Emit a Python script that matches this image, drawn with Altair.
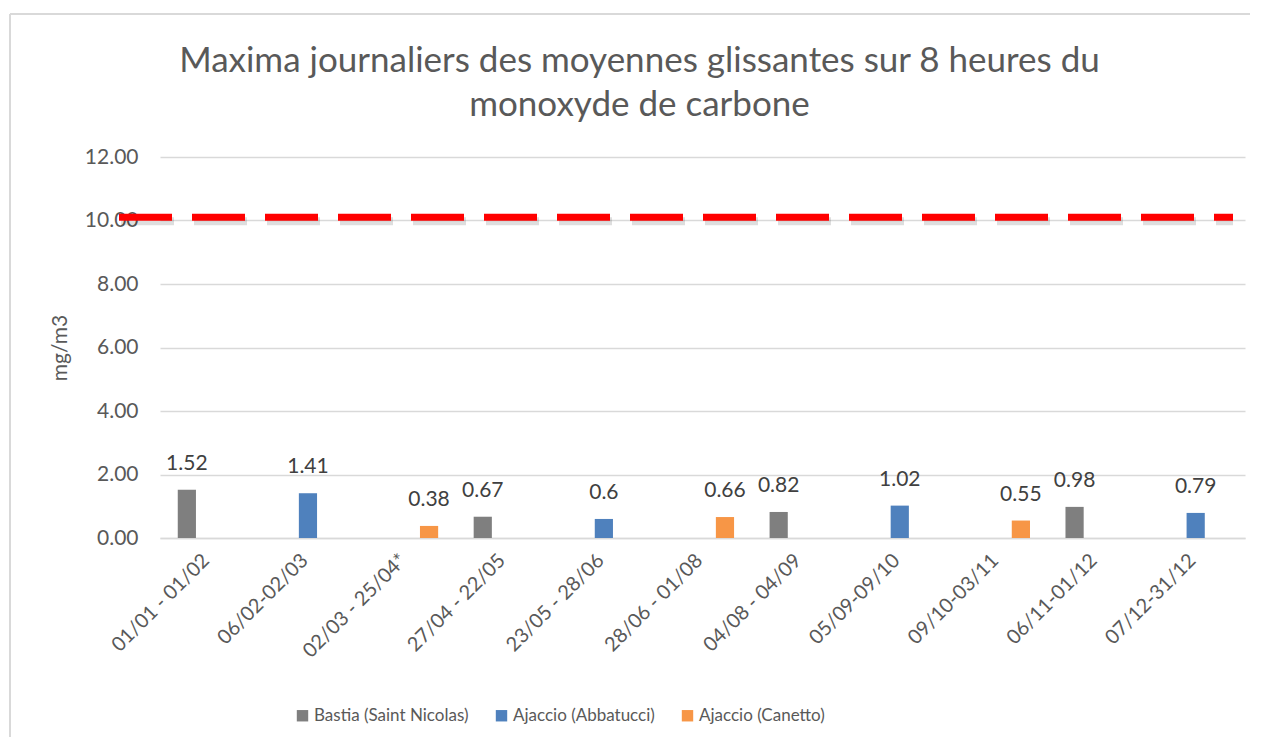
import altair as alt
import pandas as pd

categories = ["01/01 - 01/02", "06/02-02/03", "02/03 - 25/04*", "27/04 - 22/05",
              "23/05 - 28/06", "28/06 - 01/08", "04/08 - 04/09", "05/09-09/10",
              "09/10-03/11", "06/11-01/12", "07/12-31/12"]
series_names = ["Bastia (Saint Nicolas)", "Ajaccio (Abbatucci)", "Ajaccio (Canetto)"]
bar_series = ["Bastia (Saint Nicolas)", "Ajaccio (Abbatucci)", "Ajaccio (Canetto)",
              "Bastia (Saint Nicolas)", "Ajaccio (Abbatucci)", "Ajaccio (Canetto)",
              "Bastia (Saint Nicolas)", "Ajaccio (Abbatucci)", "Ajaccio (Canetto)",
              "Bastia (Saint Nicolas)", "Ajaccio (Abbatucci)"]
values = [1.52, 1.41, 0.38, 0.67, 0.6, 0.66, 0.82, 1.02, 0.55, 0.98, 0.79]
labels = ["1.52", "1.41", "0.38", "0.67", "0.6", "0.66", "0.82", "1.02", "0.55", "0.98", "0.79"]
colors = ["#7f7f7f", "#4f81bd", "#f79646"]
threshold = [10.1]

FONT = "Lato"
TXT = "#595959"

df = pd.DataFrame({"periode": categories, "serie": bar_series, "valeur": values, "label": labels})
thr = pd.DataFrame({"seuil": threshold})

W, H = 1085, 381

x_enc = alt.X("periode:N", sort=categories,
              scale=alt.Scale(domain=categories, paddingInner=0.36, paddingOuter=0.18),
              axis=alt.Axis(title=None, labelAngle=-45, ticks=False, labelPadding=19,
                            labelOffset=-3, labelAlign="right", labelBaseline="middle"))
xo_enc = alt.XOffset("serie:N", sort=series_names,
                     scale=alt.Scale(domain=series_names, paddingInner=0.19))
y_enc = alt.Y("valeur:Q", scale=alt.Scale(domain=[0, 12]),
              axis=alt.Axis(title="mg/m3", values=[0, 2, 4, 6, 8, 10, 12], format=".2f"))

bars = alt.Chart(df).mark_bar().encode(
    x=x_enc, xOffset=xo_enc, y=y_enc,
    color=alt.Color("serie:N", sort=series_names,
                    scale=alt.Scale(domain=series_names, range=colors),
                    legend=alt.Legend(title=None, orient="none", direction="horizontal",
                                      legendX=134, legendY=550))
)

text = alt.Chart(df).mark_text(baseline="bottom", dy=-16, fontSize=21, color="#404040",
                               font=FONT).encode(
    x=alt.X("periode:N", sort=categories), xOffset=alt.XOffset("serie:N", sort=series_names),
    y="valeur:Q", text="label:N")

shadow = alt.Chart(thr).mark_rule(color="#000000", opacity=0.13, strokeWidth=8,
                                  strokeDash=[53, 20], yOffset=4, xOffset=2).encode(
    y="seuil:Q", x=alt.value(-41), x2=alt.value(W - 12))

rule = alt.Chart(thr).mark_rule(color="#ff0000", strokeWidth=7,
                                strokeDash=[53, 20]).encode(
    y="seuil:Q", x=alt.value(-41), x2=alt.value(W - 12))

frame_top = alt.Chart(thr).mark_rule(color="#d9d9d9", strokeWidth=2).encode(
    x=alt.value(-150), x2=alt.value(1090), y=alt.value(-143))
frame_left = alt.Chart(thr).mark_rule(color="#d9d9d9", strokeWidth=2).encode(
    x=alt.value(-150), y=alt.value(-143), y2=alt.value(580))

chart = alt.layer(frame_top, frame_left, bars, text, shadow, rule).properties(
    width=W, height=H,
    title=alt.TitleParams(["Maxima journaliers des moyennes glissantes sur 8 heures du",
                           "monoxyde de carbone"],
                          fontSize=35, color=TXT, font=FONT, fontWeight="normal",
                          anchor="middle", frame="group", lineHeight=44, offset=-110, dx=-63),
    padding={"left": 1, "top": 5, "right": 0, "bottom": 0},
).configure(background="white").configure_view(stroke=None).configure_axisY(
    labelFontSize=21, labelColor=TXT, labelFont=FONT,
    titleFontSize=21, titleColor=TXT, titleFont=FONT, titleFontWeight="normal",
    titlePadding=14, ticks=False, domain=False, gridColor="#d9d9d9",
    gridWidth=1.5, labelPadding=22
).configure_axisX(
    labelFontSize=20, labelColor=TXT, labelFont=FONT, domainColor="#d9d9d9",
    domainWidth=1.5, grid=False
).configure_legend(
    symbolType="square", symbolSize=130, labelFontSize=17, labelColor=TXT,
    labelFont=FONT, columnPadding=24, symbolStrokeWidth=0, labelOffset=3, labelLimit=0
)

chart.save("out.html", embed_options={"renderer": "svg", "actions": False})
